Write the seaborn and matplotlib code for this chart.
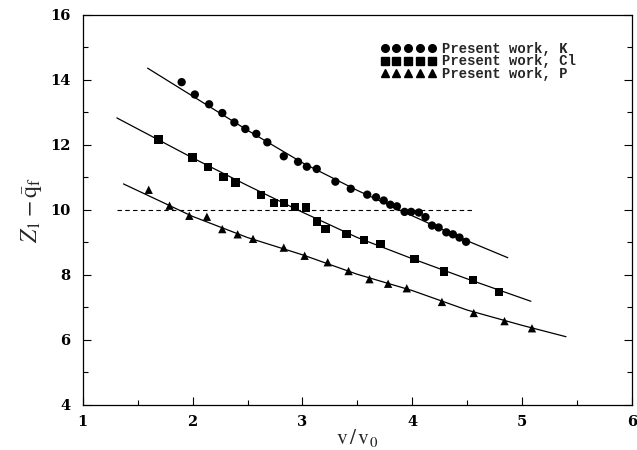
import pandas as pd
import seaborn as sns
import matplotlib.pyplot as plt
from matplotlib.lines import Line2D

k_v = [1.90, 2.02, 2.15, 2.27, 2.38, 2.48, 2.58, 2.68, 2.83, 2.96, 3.04, 3.13,
       3.30, 3.44, 3.59, 3.67, 3.74, 3.80, 3.86, 3.93, 3.99, 4.06, 4.12, 4.18,
       4.24, 4.31, 4.37, 4.43, 4.49]
k_z = [13.93, 13.55, 13.25, 12.98, 12.69, 12.49, 12.34, 12.08, 11.65, 11.48, 11.33, 11.26,
       10.87, 10.65, 10.47, 10.39, 10.29, 10.16, 10.11, 9.94, 9.94, 9.92, 9.78, 9.52,
       9.46, 9.31, 9.25, 9.15, 9.02]

cl_v = [1.69, 2.00, 2.14, 2.28, 2.39, 2.62, 2.74, 2.83, 2.93, 3.03, 3.13, 3.21,
        3.40, 3.56, 3.71, 4.02, 4.29, 4.55, 4.79]
cl_z = [12.17, 11.61, 11.33, 11.01, 10.84, 10.46, 10.22, 10.21, 10.10, 10.07, 9.64, 9.42,
        9.26, 9.08, 8.95, 8.49, 8.11, 7.84, 7.48]

p_v = [1.60, 1.79, 1.97, 2.13, 2.27, 2.41, 2.55, 2.83, 3.02, 3.23, 3.42, 3.61,
       3.78, 3.95, 4.27, 4.56, 4.84, 5.09]
p_z = [10.62, 10.13, 9.82, 9.79, 9.41, 9.25, 9.11, 8.84, 8.59, 8.39, 8.12, 7.87,
       7.73, 7.59, 7.17, 6.83, 6.58, 6.36]

# Curvas ajustadas (pontos lidos ao longo das curvas)
k_fit_v = [1.59, 2.0, 2.5, 3.0, 3.5, 4.0, 4.5, 4.87]
k_fit_z = [14.36, 13.50, 12.45, 11.45, 10.60, 9.82, 9.05, 8.53]
cl_fit_v = [1.31, 2.0, 2.5, 3.0, 3.5, 4.0, 4.5, 5.08]
cl_fit_z = [12.83, 11.60, 10.75, 9.93, 9.15, 8.50, 7.88, 7.19]
p_fit_v = [1.37, 2.0, 2.5, 3.0, 3.5, 4.0, 4.5, 5.0, 5.4]
p_fit_z = [10.80, 9.80, 9.15, 8.62, 8.02, 7.52, 6.92, 6.45, 6.10]

# Linha tracejada de referência
ref_v = [1.31, 4.55]
ref_z = [10.0, 10.0]

labels = ['Present work, K', 'Present work, Cl', 'Present work, P']
markers = ['o', 's', '^']

sns.set_theme(style="white")
plt.rcParams['mathtext.fontset'] = 'stix'
plt.rcParams['font.family'] = ['DejaVu Serif']

fig = plt.figure(figsize=(6.37, 4.5), dpi=100)
ax = fig.add_axes([0.130, 0.100, 0.862, 0.867])

pts = pd.concat([
    pd.DataFrame({'v': k_v, 'z': k_z, 'serie': labels[0]}),
    pd.DataFrame({'v': cl_v, 'z': cl_z, 'serie': labels[1]}),
    pd.DataFrame({'v': p_v, 'z': p_z, 'serie': labels[2]}),
])
fits = pd.concat([
    pd.DataFrame({'v': k_fit_v, 'z': k_fit_z, 'serie': labels[0]}),
    pd.DataFrame({'v': cl_fit_v, 'z': cl_fit_z, 'serie': labels[1]}),
    pd.DataFrame({'v': p_fit_v, 'z': p_fit_z, 'serie': labels[2]}),
])

sns.lineplot(data=fits, x='v', y='z', units='serie', estimator=None, sort=False,
             color='black', linewidth=0.9, ax=ax, legend=False)
sns.lineplot(x=ref_v, y=ref_z, color='black', linewidth=0.8, linestyle=(0, (4, 3)), ax=ax)
sns.scatterplot(data=pts, x='v', y='z', style='serie', markers=dict(zip(labels, markers)),
                color='black', s=36, edgecolor='black', linewidth=0, ax=ax, legend=False)

ax.set_xlim(1, 6)
ax.set_ylim(4, 16)
ax.set_xticks([1, 2, 3, 4, 5, 6])
ax.set_yticks([4, 6, 8, 10, 12, 14, 16])
ax.set_xticks([1.5, 2.5, 3.5, 4.5, 5.5], minor=True)
ax.set_yticks([5, 7, 9, 11, 13, 15], minor=True)
ax.tick_params(which='both', direction='in', top=False, right=True, bottom=True, left=True,
               colors='black', labelsize=10.5)
ax.tick_params(axis='x', pad=7)
ax.tick_params(axis='y', pad=9)
ax.tick_params(which='major', length=6, width=0.8)
ax.tick_params(which='minor', length=3.5, width=0.8)
for lab in ax.get_xticklabels() + ax.get_yticklabels():
    lab.set_fontweight('bold')
for s in ax.spines.values():
    s.set_color('black')
    s.set_linewidth(0.9)

ax.set_xlabel(r'$\mathrm{v}\,/\,\mathrm{v}_0$', fontsize=15.5, labelpad=-1)
ax.set_ylabel(r'$Z_1-\bar{\mathrm{q}}_\mathrm{f}$', fontsize=17, labelpad=4)

handles = [Line2D([], [], marker=m, color='black', linestyle='none', markersize=5.5)
           for m in markers]
ax.legend(handles, labels, loc='upper left', bbox_to_anchor=(0.532, 0.945), frameon=False,
          numpoints=5, handlelength=4.0, handletextpad=0.45, labelspacing=-0.1,
          borderaxespad=0, prop={'family': 'Liberation Mono', 'weight': 'bold', 'size': 10})

plt.savefig('out.png', dpi=100)
plt.close()
